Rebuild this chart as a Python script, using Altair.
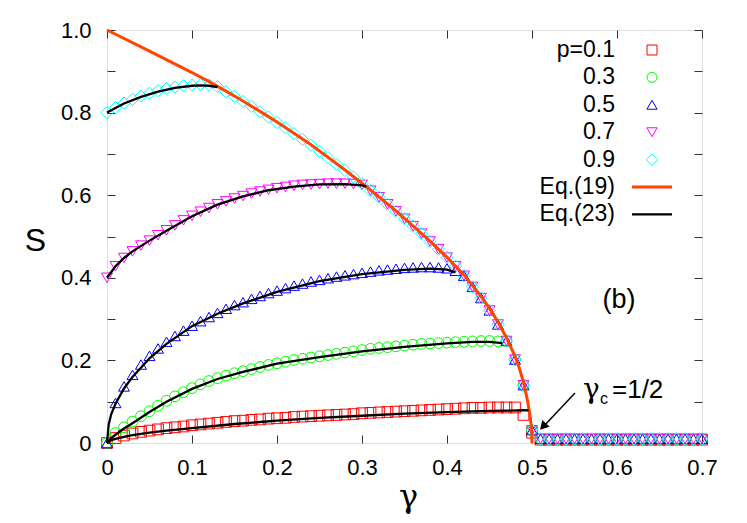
import altair as alt
import pandas as pd

# ---------------- data ----------------
gamma = [0.00, 0.01, 0.02, 0.03, 0.04, 0.05, 0.06, 0.07, 0.08, 0.09,
         0.10, 0.11, 0.12, 0.13, 0.14, 0.15, 0.16, 0.17, 0.18, 0.19,
         0.20, 0.21, 0.22, 0.23, 0.24, 0.25, 0.26, 0.27, 0.28, 0.29,
         0.30, 0.31, 0.32, 0.33, 0.34, 0.35, 0.36, 0.37, 0.38, 0.39,
         0.40, 0.41, 0.42, 0.43, 0.44, 0.45, 0.46, 0.47, 0.48, 0.49,
         0.50, 0.51, 0.52, 0.53, 0.54, 0.55, 0.56, 0.57, 0.58, 0.59,
         0.60, 0.61, 0.62, 0.63, 0.64, 0.65, 0.66, 0.67, 0.68, 0.69,
         0.70]

s_p01 = [0.000, 0.012, 0.018, 0.023, 0.027, 0.030, 0.033, 0.036, 0.038, 0.040,
         0.043, 0.045, 0.047, 0.049, 0.051, 0.053, 0.054, 0.056, 0.057, 0.059,
         0.060, 0.061, 0.063, 0.064, 0.065, 0.066, 0.067, 0.068, 0.069, 0.070,
         0.072, 0.073, 0.074, 0.075, 0.076, 0.077, 0.078, 0.079, 0.080, 0.081,
         0.082, 0.083, 0.084, 0.085, 0.085, 0.086, 0.086, 0.086, 0.086, 0.068,
         0.025, 0.008, 0.008, 0.008, 0.008, 0.008, 0.008, 0.008, 0.008, 0.008,
         0.008, 0.008, 0.008, 0.008, 0.008, 0.008, 0.008, 0.008, 0.008, 0.008,
         0.008]

s_p03 = [0.000, 0.024, 0.038, 0.052, 0.065, 0.077, 0.090, 0.102, 0.113, 0.123,
         0.133, 0.142, 0.150, 0.157, 0.163, 0.169, 0.174, 0.179, 0.184, 0.189,
         0.193, 0.197, 0.201, 0.204, 0.207, 0.210, 0.213, 0.216, 0.219, 0.222,
         0.225, 0.228, 0.230, 0.232, 0.234, 0.236, 0.238, 0.240, 0.241, 0.242,
         0.243, 0.244, 0.245, 0.246, 0.247, 0.247, 0.246, 0.247, 0.202, 0.140,
         0.031, 0.010, 0.010, 0.010, 0.010, 0.010, 0.010, 0.010, 0.010, 0.010,
         0.010, 0.010, 0.010, 0.010, 0.010, 0.010, 0.010, 0.010, 0.010, 0.010,
         0.010]

s_p05 = [0.000, 0.097, 0.137, 0.165, 0.190, 0.211, 0.229, 0.245, 0.259, 0.272,
         0.284, 0.295, 0.305, 0.315, 0.325, 0.334, 0.341, 0.349, 0.356, 0.363,
         0.369, 0.375, 0.381, 0.386, 0.391, 0.395, 0.399, 0.403, 0.406, 0.409,
         0.412, 0.415, 0.418, 0.420, 0.422, 0.424, 0.425, 0.426, 0.426, 0.425,
         0.423, 0.417, 0.405, 0.378, 0.351, 0.321, 0.287, 0.247, 0.202, 0.140,
         0.031, 0.010, 0.010, 0.010, 0.010, 0.010, 0.010, 0.010, 0.010, 0.010,
         0.010, 0.010, 0.010, 0.010, 0.010, 0.010, 0.010, 0.010, 0.010, 0.010,
         0.010]

s_p07 = [0.400, 0.428, 0.448, 0.464, 0.478, 0.490, 0.503, 0.515, 0.527, 0.539,
         0.550, 0.560, 0.569, 0.578, 0.585, 0.592, 0.598, 0.604, 0.609, 0.613,
         0.617, 0.620, 0.623, 0.625, 0.626, 0.627, 0.628, 0.628, 0.628, 0.627,
         0.625, 0.611, 0.595, 0.578, 0.561, 0.543, 0.525, 0.507, 0.488, 0.469,
         0.449, 0.428, 0.405, 0.378, 0.351, 0.321, 0.287, 0.247, 0.202, 0.140,
         0.031, 0.010, 0.010, 0.010, 0.010, 0.010, 0.010, 0.010, 0.010, 0.010,
         0.010, 0.010, 0.010, 0.010, 0.010, 0.010, 0.010, 0.010, 0.010, 0.010,
         0.010]

s_p09 = [0.800, 0.812, 0.823, 0.832, 0.840, 0.847, 0.853, 0.858, 0.862, 0.865,
         0.867, 0.868, 0.867, 0.863, 0.850, 0.839, 0.827, 0.815, 0.802, 0.789,
         0.776, 0.763, 0.749, 0.735, 0.721, 0.706, 0.691, 0.675, 0.660, 0.644,
         0.628, 0.611, 0.595, 0.578, 0.561, 0.543, 0.525, 0.507, 0.488, 0.469,
         0.449, 0.428, 0.405, 0.378, 0.351, 0.321, 0.287, 0.247, 0.202, 0.140,
         0.031, 0.010, 0.010, 0.010, 0.010, 0.010, 0.010, 0.010, 0.010, 0.010,
         0.010, 0.010, 0.010, 0.010, 0.010, 0.010, 0.010, 0.010, 0.010, 0.010,
         0.010]

# Eq.(19)
eq19_g = [0.00, 0.05, 0.10, 0.12, 0.14, 0.16, 0.18, 0.20, 0.22, 0.24, 0.26, 0.28,
          0.30, 0.32, 0.34, 0.36, 0.38, 0.40, 0.42, 0.44, 0.45, 0.46, 0.47, 0.48,
          0.485, 0.49, 0.495, 0.498, 0.4995, 0.50]
eq19_s = [1.000, 0.949, 0.897, 0.875, 0.852, 0.828, 0.803, 0.777, 0.750, 0.722, 0.692, 0.661,
          0.629, 0.596, 0.562, 0.526, 0.489, 0.450, 0.407, 0.355, 0.326, 0.293, 0.255, 0.210,
          0.182, 0.147, 0.100, 0.062, 0.035, 0.000]

# Eq.(23), one curve per p
eq23_p01_g = [0.00, 0.005, 0.01, 0.02, 0.03, 0.05, 0.07, 0.10, 0.15, 0.20, 0.25, 0.30,
              0.35, 0.40, 0.45, 0.49, 0.496]
eq23_p01_s = [0.000, 0.007, 0.010, 0.015, 0.019, 0.025, 0.030, 0.036, 0.046, 0.054, 0.061, 0.066,
              0.071, 0.075, 0.078, 0.079, 0.079]
eq23_p03_g = [0.00, 0.005, 0.01, 0.02, 0.03, 0.05, 0.07, 0.10, 0.13, 0.16, 0.20, 0.25,
              0.30, 0.35, 0.40, 0.43, 0.45, 0.465]
eq23_p03_s = [0.000, 0.012, 0.020, 0.035, 0.048, 0.075, 0.100, 0.131, 0.155, 0.172, 0.192, 0.208,
              0.222, 0.233, 0.241, 0.245, 0.245, 0.242]
eq23_p05_g = [0.00, 0.002, 0.005, 0.01, 0.02, 0.03, 0.05, 0.07, 0.10, 0.13, 0.16, 0.20,
              0.25, 0.30, 0.35, 0.38, 0.40, 0.41]
eq23_p05_s = [0.000, 0.045, 0.070, 0.095, 0.132, 0.160, 0.205, 0.240, 0.283, 0.313, 0.338, 0.366,
              0.392, 0.409, 0.419, 0.422, 0.420, 0.413]
eq23_p07_g = [0.00, 0.01, 0.02, 0.03, 0.05, 0.07, 0.10, 0.13, 0.16, 0.19, 0.22, 0.25,
              0.28, 0.30, 0.305]
eq23_p07_s = [0.400, 0.428, 0.448, 0.464, 0.490, 0.514, 0.549, 0.577, 0.597, 0.612, 0.621, 0.626,
              0.627, 0.624, 0.621]
eq23_p09_g = [0.00, 0.02, 0.04, 0.06, 0.08, 0.10, 0.11, 0.12, 0.13]
eq23_p09_s = [0.800, 0.822, 0.838, 0.851, 0.860, 0.865, 0.866, 0.865, 0.862]

series_labels = ["p=0.1", "0.3", "0.5", "0.7", "0.9"]
series_values = [s_p01, s_p03, s_p05, s_p07, s_p09]
line_labels = ["Eq.(19)", "Eq.(23)"]

# ---------------- styling ----------------
FONT = "Liberation Sans"
GREEK = "DejaVu Serif"
W, H = 595, 413
colors = ["#ff0000", "#00ff00", "#0000ff", "#ff00ff", "#00ffff"]
shapes = ["square", "circle", "triangle-up", "triangle-down", "diamond"]
sizes = [115, 115, 120, 120, 150]
ORANGE = "#ff4500"
FRAME = "#333333"

xs = alt.Scale(domain=[0, 0.7], nice=False, zero=False)
ys = alt.Scale(domain=[0, 1], nice=False, zero=False)

xtick_vals = [0.0, 0.1, 0.2, 0.3, 0.4, 0.5, 0.6, 0.7]
ytick_vals = [0.0, 0.1, 0.2, 0.3, 0.4, 0.5, 0.6, 0.7, 0.8, 0.9, 1.0]
ylabel_vals = [0.0, 0.2, 0.4, 0.6, 0.8, 1.0]
lab_expr = "datum.value == 0 ? '0' : format(datum.value, '.1f')"

main_x_axis = alt.Axis(values=xtick_vals, labelExpr=lab_expr, ticks=False, domain=False,
                       grid=False, labelFontSize=22, labelFont=FONT, labelColor="black",
                       labelPadding=14, labelFlush=False, labelOverlap=False,
                       titleFont=GREEK, titleFontSize=32, titleFontWeight="normal",
                       titleColor="black", titleX=301, titleY=63, titleAlign="center",
                       titleBaseline="alphabetic")
main_y_axis = alt.Axis(values=ylabel_vals, labelExpr=lab_expr, ticks=False, domain=False,
                       grid=False, labelFontSize=22, labelFont=FONT, labelColor="black",
                       labelPadding=16, labelFlush=False, labelOverlap=False,
                       titleFont=FONT, titleFontSize=32, titleFontWeight="normal",
                       titleColor="black", titleAngle=0, titleX=-72, titleY=210,
                       titleAlign="center", titleBaseline="middle")


def tick_axis(orient, offset, vals):
    return alt.Axis(orient=orient, offset=offset, values=vals, labels=False, domain=False,
                    grid=False, ticks=True, tickSize=8, tickColor=FRAME, tickWidth=1)


layers = []

# markers
for i, (lab, vals) in enumerate(zip(series_labels, series_values)):
    df = pd.DataFrame({"g": gamma, "s": vals})
    if i == 0:
        xe = alt.X("g:Q", scale=xs, axis=main_x_axis, title="γ")
        ye = alt.Y("s:Q", scale=ys, axis=main_y_axis, title="S")
    else:
        xe = alt.X("g:Q", scale=xs, axis=None)
        ye = alt.Y("s:Q", scale=ys, axis=None)
    layers.append(
        alt.Chart(df).mark_point(shape=shapes[i], color=colors[i], size=sizes[i],
                                 filled=False, strokeWidth=1, opacity=1).encode(x=xe, y=ye)
    )

# Eq.(19)
df19 = pd.DataFrame({"g": eq19_g, "s": eq19_s})
layers.append(
    alt.Chart(df19).mark_line(color=ORANGE, strokeWidth=3).encode(
        x=alt.X("g:Q", scale=xs, axis=tick_axis("top", -H, xtick_vals), title=None),
        y=alt.Y("s:Q", scale=ys, axis=tick_axis("right", -W, ytick_vals), title=None),
    )
)

# Eq.(23)
rows = []
for lab, gg, ss in zip(series_labels,
                       [eq23_p01_g, eq23_p03_g, eq23_p05_g, eq23_p07_g, eq23_p09_g],
                       [eq23_p01_s, eq23_p03_s, eq23_p05_s, eq23_p07_s, eq23_p09_s]):
    for a, b in zip(gg, ss):
        rows.append({"grp": lab, "g": a, "s": b})
df23 = pd.DataFrame(rows)
layers.append(
    alt.Chart(df23).mark_line(color="black", strokeWidth=2.3).encode(
        x=alt.X("g:Q", scale=xs, axis=tick_axis("bottom", -H, xtick_vals), title=None),
        y=alt.Y("s:Q", scale=ys, axis=tick_axis("left", -W, ytick_vals), title=None),
        detail="grp:N",
    )
)

one = pd.DataFrame({"k": [0]})


def txt(t, x, y, size, align="left", baseline="alphabetic", font=FONT):
    return alt.Chart(one).mark_text(text=t, align=align, baseline=baseline, fontSize=size,
                                    font=font, color="black").encode(
        x=alt.value(x), y=alt.value(y))


# annotations
layers.append(txt("(b)", 512, 270, 27, align="center", baseline="middle"))
layers.append(txt("γ", 476, 368, 28, font=GREEK))
layers.append(txt("c", 493, 374, 16))
layers.append(txt("=1/2", 505, 368, 26))
layers.append(alt.Chart(one).mark_rule(color="black", strokeWidth=1.5).encode(
    x=alt.value(468), y=alt.value(363), x2=alt.value(436), y2=alt.value(397)))
layers.append(alt.Chart(one).mark_point(shape="triangle-up", filled=True, color="black",
                                        size=100, angle=223, opacity=1).encode(
    x=alt.value(436), y=alt.value(396.5)))

# legend (labels to the left of their symbols, as in the reference)
LX, SX, L1, L2 = 508, 545, 525, 565
for i, lab in enumerate(series_labels + line_labels):
    ly = 20 + 27.4 * i
    layers.append(txt(lab, LX, ly, 23, align="right", baseline="middle"))
    if i < 5:
        layers.append(alt.Chart(one).mark_point(shape=shapes[i], color=colors[i],
                                                size=sizes[i] - 15, filled=False,
                                                strokeWidth=1, opacity=1).encode(
            x=alt.value(SX), y=alt.value(ly)))
    else:
        layers.append(alt.Chart(one).mark_rule(
            color=ORANGE if i == 5 else "black",
            strokeWidth=3 if i == 5 else 2.3).encode(
            x=alt.value(L1), x2=alt.value(L2), y=alt.value(ly)))

chart = alt.layer(*layers).resolve_axis(x="independent", y="independent").properties(
    width=W, height=H,
    autosize=alt.AutoSizeParams(type="none"),
    padding={"left": 99, "top": 22, "right": 37, "bottom": 72},
).configure_view(stroke=FRAME, strokeWidth=1.2).configure(background="white")

chart.save("out.html", embed_options={"renderer": "svg", "actions": False})
